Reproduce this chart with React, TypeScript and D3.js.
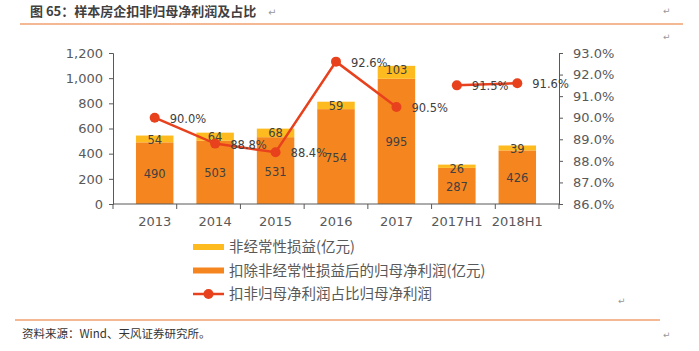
import { useEffect, useRef } from 'react';
import * as d3 from 'd3';

// Chart data
const categories = ['2013', '2014', '2015', '2016', '2017', '2017H1', '2018H1'];
const coreProfit = [490, 503, 531, 754, 995, 287, 426]; // 扣除非经常性损益后的归母净利润
const nonRecurring = [54, 64, 68, 59, 103, 26, 39]; // 非经常性损益
const ratioYears = [90.0, 88.8, 88.4, 92.6, 90.5]; // 年度
const ratioHalves = [91.5, 91.6]; // 半年度
const leftTicks = [0, 200, 400, 600, 800, 1000, 1200];
const rightTicks = [86, 87, 88, 89, 90, 91, 92, 93];
const legendLabels = ['非经常性损益(亿元)', '扣除非经常性损益后的归母净利润(亿元)', '扣非归母净利润占比归母净利润'];

const YELLOW = '#FDBB1F';
const ORANGE = '#F5861F';
const RED = '#E8411D';
const TEXT = '#595959';
const FONT = '"Noto Sans CJK SC", "DejaVu Sans", sans-serif';
const NUM_FONT = '"DejaVu Sans", sans-serif';

export default function App() {
    const svgRef = useRef<SVGSVGElement>(null);

    useEffect(() => {
        if (!svgRef.current) return;
        const svg = d3.select(svgRef.current);
        svg.selectAll('*').remove();

        const left = 113, right = 559, top = 53, bottom = 204;

        const x = d3.scaleBand<string>().domain(categories).range([left, right]).padding(0.38);
        const xOuter = d3.scaleBand<string>().domain(categories).range([left, right]).padding(0);
        const y = d3.scaleLinear().domain([0, 1200]).range([bottom, top]);
        const y2 = d3.scaleLinear().domain([86, 93]).range([bottom, top]);

        // Title
        svg.append('text')
            .attr('x', 30).attr('y', 16)
            .attr('font-family', FONT).attr('font-size', 13).attr('font-weight', 700)
            .attr('fill', '#404040')
            .text('图 65：样本房企扣非归母净利润及占比');
        svg.append('text')
            .attr('x', 268).attr('y', 16)
            .attr('font-family', FONT).attr('font-size', 10).attr('fill', '#999')
            .text('↵');
        svg.append('line')
            .attr('x1', 20).attr('x2', 683).attr('y1', 24).attr('y2', 24)
            .attr('stroke', '#F0A070').attr('stroke-width', 1.5);

        // Bars
        const bars = svg.append('g');
        categories.forEach((c, i) => {
            const bx = x(c) || 0;
            const total = coreProfit[i] + nonRecurring[i];
            bars.append('rect')
                .attr('x', bx).attr('width', x.bandwidth())
                .attr('y', y(coreProfit[i])).attr('height', y(0) - y(coreProfit[i]))
                .attr('fill', ORANGE);
            bars.append('rect')
                .attr('x', bx).attr('width', x.bandwidth())
                .attr('y', y(total)).attr('height', y(coreProfit[i]) - y(total))
                .attr('fill', YELLOW);
            bars.append('text')
                .attr('x', bx + x.bandwidth() / 2)
                .attr('y', (y(0) + y(coreProfit[i])) / 2 + 5)
                .attr('text-anchor', 'middle')
                .attr('font-family', NUM_FONT).attr('font-size', 11.5).attr('fill', '#404040')
                .text(coreProfit[i]);
            bars.append('text')
                .attr('x', bx + x.bandwidth() / 2)
                .attr('y', y(total) + 8)
                .attr('text-anchor', 'middle')
                .attr('font-family', NUM_FONT).attr('font-size', 11.5).attr('fill', '#404040')
                .text(nonRecurring[i]);
        });

        // Left axis
        const ax = svg.append('g').attr('transform', `translate(${left},0)`)
            .call(d3.axisLeft(y).tickValues(leftTicks).tickFormat(d3.format(',')).tickSize(4).tickPadding(6));
        ax.select('.domain').attr('stroke', '#595959');
        ax.selectAll('.tick line').attr('stroke', '#595959');
        ax.selectAll('.tick text').attr('fill', TEXT).attr('font-size', 13).attr('font-family', NUM_FONT);

        // Right axis
        const ar = svg.append('g').attr('transform', `translate(${right},0)`)
            .call(d3.axisRight(y2).tickValues(rightTicks).tickFormat(d => `${(+d).toFixed(1)}%`).tickSize(4).tickPadding(10));
        ar.select('.domain').attr('stroke', '#595959');
        ar.selectAll('.tick line').attr('stroke', '#595959');
        ar.selectAll('.tick text').attr('fill', TEXT).attr('font-size', 13).attr('font-family', NUM_FONT);

        // Bottom axis
        const ab = svg.append('g').attr('transform', `translate(0,${bottom})`);
        ab.append('line').attr('x1', left).attr('x2', right).attr('stroke', '#595959');
        [...categories.map(c => xOuter(c) || 0), right].forEach(t => {
            ab.append('line').attr('x1', t).attr('x2', t).attr('y1', 0).attr('y2', 5).attr('stroke', '#595959');
        });
        categories.forEach(c => {
            ab.append('text')
                .attr('x', (x(c) || 0) + x.bandwidth() / 2).attr('y', 22)
                .attr('text-anchor', 'middle')
                .attr('font-family', NUM_FONT).attr('font-size', 13).attr('fill', TEXT)
                .text(c);
        });

        // Ratio line
        const cx = (c: string) => (x(c) || 0) + x.bandwidth() / 2;
        const yearPts = ratioYears.map((v, i) => ({ c: categories[i], v }));
        const halfPts = ratioHalves.map((v, i) => ({ c: categories[5 + i], v }));
        const line = d3.line<{ c: string; v: number }>().x(d => cx(d.c)).y(d => y2(d.v));
        [yearPts, halfPts].forEach(pts => {
            svg.append('path').datum(pts)
                .attr('d', line).attr('fill', 'none')
                .attr('stroke', RED).attr('stroke-width', 2.5);
            pts.forEach(p => {
                svg.append('circle').attr('cx', cx(p.c)).attr('cy', y2(p.v)).attr('r', 5).attr('fill', RED);
                svg.append('text')
                    .attr('x', cx(p.c) + 15).attr('y', y2(p.v) + 5)
                    .attr('font-family', NUM_FONT).attr('font-size', 11.5).attr('fill', '#404040')
                    .text(`${p.v.toFixed(1)}%`);
            });
        });

        // Legend
        const lg = svg.append('g').attr('transform', 'translate(193,247)');
        legendLabels.forEach((label, i) => {
            const ly = i * 23.5;
            if (i < 2) {
                lg.append('rect').attr('x', 0).attr('y', ly - 3).attr('width', 31).attr('height', 6)
                    .attr('fill', i === 0 ? YELLOW : ORANGE);
            } else {
                lg.append('line').attr('x1', 0).attr('x2', 31).attr('y1', ly).attr('y2', ly)
                    .attr('stroke', RED).attr('stroke-width', 2.5);
                lg.append('circle').attr('cx', 15.5).attr('cy', ly).attr('r', 5).attr('fill', RED);
            }
            lg.append('text')
                .attr('x', 36).attr('y', ly + 5)
                .attr('font-family', FONT).attr('font-size', 14.5).attr('fill', TEXT)
                .text(label);
        });

        // Footer
        svg.append('line')
            .attr('x1', 15).attr('x2', 660).attr('y1', 320).attr('y2', 320)
            .attr('stroke', '#F0A070').attr('stroke-width', 1.5);
        svg.append('text')
            .attr('x', 22).attr('y', 338)
            .attr('font-family', FONT).attr('font-size', 11.5).attr('fill', '#333')
            .text('资料来源：Wind、天风证券研究所。');
        [[663, 14], [663, 40], [618, 304], [663, 338]].forEach(([px, py]) => {
            svg.append('text').attr('x', px).attr('y', py)
                .attr('font-family', FONT).attr('font-size', 9).attr('fill', '#999')
                .text('↵');
        });
    }, []);

    return (
        <div style={{ position: 'absolute', left: 0, top: 0, width: 699, height: 351, background: '#fff' }}>
            <svg ref={svgRef} width={699} height={351} style={{ display: 'block' }} />
        </div>
    );
}
